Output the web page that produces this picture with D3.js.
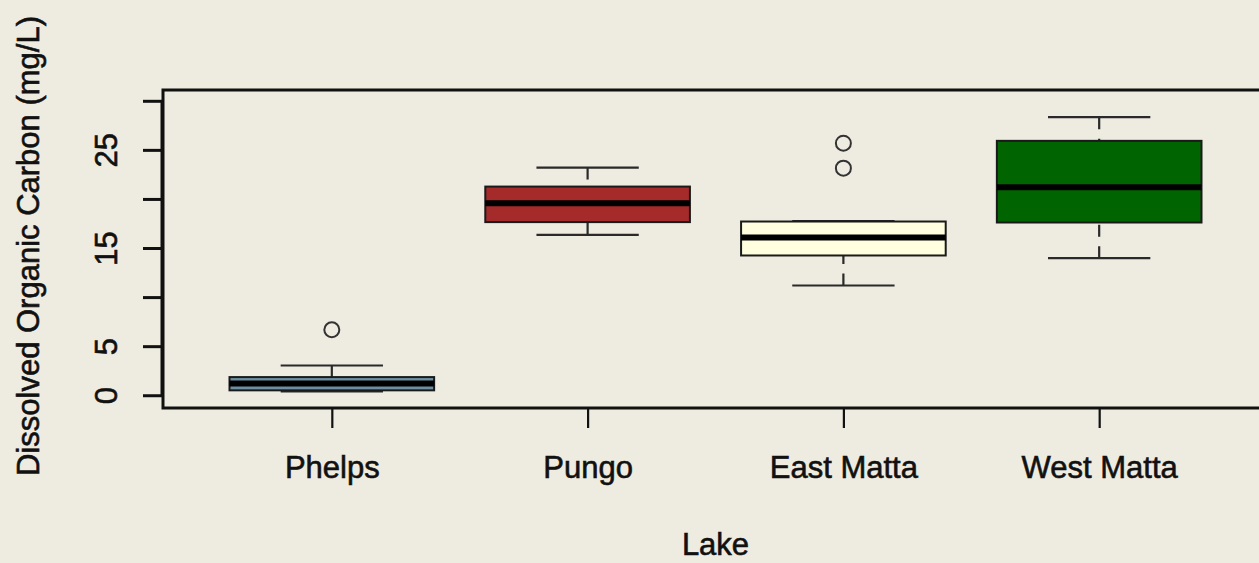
<!DOCTYPE html>
<html>
<head>
<meta charset="utf-8">
<script src="https://cdn.jsdelivr.net/npm/d3@7"></script>
<style>
  html, body { margin: 0; padding: 0; background: #eeebe0; }
  svg { display: block; }
  text { font-family: "Liberation Sans", Arial, Helvetica, sans-serif; fill: #111; stroke: #111; stroke-width: 0.6px; }
</style>
</head>
<body>
<svg id="chart" width="1259" height="563"></svg>
<script>
// Dissolved organic carbon by lake: five-number summaries plus outliers
const lakes        = ["Phelps", "Pungo", "East Matta", "West Matta"];
const whiskerLow   = [0.39, 16.34, 11.18, 13.97];
const quartile1    = [0.50, 17.64, 14.24, 17.60];
const medians      = [1.20, 19.57, 16.07, 21.20];
const quartile3    = [1.85, 21.26, 17.70, 25.92];
const whiskerHigh  = [3.03, 23.20, 17.75, 28.33];
const outliers     = [[6.67], [], [23.14, 25.68], []];
const boxFills     = ["#6b8fa1", "#a52a2a", "#ffffe0", "#006400"];

const yTicks       = [0, 5, 10, 15, 20, 25, 30];
const yTickLabels  = ["0", "5", "", "15", "", "25", ""];
const yTitle       = "Dissolved Organic Carbon (mg/L)";
const xTitle       = "Lake";

const svg = d3.select("#chart");

// plotting region (right side runs past the page edge)
const plotLeft = 163, plotRight = 1268, plotTop = 90, plotBottom = 408;

const x = d3.scaleLinear().domain([0.34, 4.66]).range([plotLeft, plotRight]);
const y = d3.scaleLinear().domain([-1.3, 31.1]).range([plotBottom, plotTop]);

const boxHalf = 0.4, capHalf = 0.2;

const rows = lakes.map((name, i) => ({
  name, pos: i + 1,
  lo: whiskerLow[i], q1: quartile1[i], med: medians[i],
  q3: quartile3[i], hi: whiskerHigh[i],
  out: outliers[i], fill: boxFills[i]
}));

const g = svg.append("g");

const box = g.selectAll("g.box").data(rows).join("g").attr("class", "box");

// whiskers, drawn from whisker end toward the box so the dash starts at the cap
box.append("line")
  .attr("x1", d => x(d.pos)).attr("x2", d => x(d.pos))
  .attr("y1", d => y(d.lo)).attr("y2", d => y(d.q1))
  .attr("stroke", "#2a2a2a").attr("stroke-width", 2.2)
  .attr("stroke-dasharray", "12,9.5");
box.append("line")
  .attr("x1", d => x(d.pos)).attr("x2", d => x(d.pos))
  .attr("y1", d => y(d.hi)).attr("y2", d => y(d.q3))
  .attr("stroke", "#2a2a2a").attr("stroke-width", 2.2)
  .attr("stroke-dasharray", "12,9.5");

// whisker caps
["lo", "hi"].forEach(k => {
  box.append("line")
    .attr("x1", d => x(d.pos - capHalf)).attr("x2", d => x(d.pos + capHalf))
    .attr("y1", d => y(d[k])).attr("y2", d => y(d[k]))
    .attr("stroke", "#2a2a2a").attr("stroke-width", 2.2);
});

// boxes
box.append("rect")
  .attr("x", d => x(d.pos - boxHalf))
  .attr("width", d => x(d.pos + boxHalf) - x(d.pos - boxHalf))
  .attr("y", d => y(d.q3))
  .attr("height", d => y(d.q1) - y(d.q3))
  .attr("fill", d => d.fill)
  .attr("stroke", "#1a1a1a").attr("stroke-width", 2);

// medians
box.append("line")
  .attr("x1", d => x(d.pos - boxHalf)).attr("x2", d => x(d.pos + boxHalf))
  .attr("y1", d => y(d.med)).attr("y2", d => y(d.med))
  .attr("stroke", "#000").attr("stroke-width", 6);

// outliers
box.selectAll("circle").data(d => d.out.map(v => ({ pos: d.pos, v })))
  .join("circle")
  .attr("cx", d => x(d.pos)).attr("cy", d => y(d.v))
  .attr("r", 7.5)
  .attr("fill", "none").attr("stroke", "#333").attr("stroke-width", 2);

// frame
svg.append("rect")
  .attr("x", plotLeft).attr("y", plotTop)
  .attr("width", plotRight - plotLeft).attr("height", plotBottom - plotTop)
  .attr("fill", "none").attr("stroke", "#111").attr("stroke-width", 3);

// y axis
const yAxis = d3.axisLeft(y)
  .tickValues(yTicks)
  .tickSize(19)
  .tickSizeOuter(0)
  .tickFormat((d, i) => yTickLabels[i]);
const ya = svg.append("g").attr("transform", `translate(${plotLeft - 1},0)`).call(yAxis);
ya.select(".domain").remove();
ya.selectAll(".tick line").attr("stroke", "#111").attr("stroke-width", 3);
ya.selectAll(".tick text")
  .attr("x", null).attr("dy", null)
  .attr("transform", "translate(-45,0) rotate(-90)")
  .attr("text-anchor", "middle")
  .style("font-size", "31px")
  .style("font-family", "'Liberation Sans', Arial, sans-serif")
  .attr("fill", "#111");
ya.append("line")
  .attr("x1", 0).attr("x2", 0)
  .attr("y1", y(yTicks[0])).attr("y2", y(yTicks[yTicks.length - 1]))
  .attr("stroke", "#111").attr("stroke-width", 3);

// x axis
const xAxis = d3.axisBottom(x)
  .tickValues(lakes.map((_, i) => i + 1))
  .tickSize(20)
  .tickSizeOuter(0)
  .tickFormat((d) => lakes[d - 1]);
const xa = svg.append("g").attr("transform", `translate(0,${plotBottom})`).call(xAxis);
xa.select(".domain").remove();
xa.selectAll(".tick line").attr("stroke", "#111").attr("stroke-width", 2.2);
xa.selectAll(".tick text")
  .attr("y", 70).attr("dy", null)
  .style("font-size", "31px")
  .style("font-family", "'Liberation Sans', Arial, sans-serif")
  .attr("fill", "#111");

// axis titles
svg.append("text")
  .attr("x", (plotLeft + plotRight) / 2).attr("y", 555)
  .attr("text-anchor", "middle")
  .style("font-size", "31px")
  .text(xTitle);

svg.append("text")
  .attr("transform", `translate(39,246) rotate(-90)`)
  .attr("text-anchor", "middle")
  .style("font-size", "31px")
  .text(yTitle);
</script>
</body>
</html>
